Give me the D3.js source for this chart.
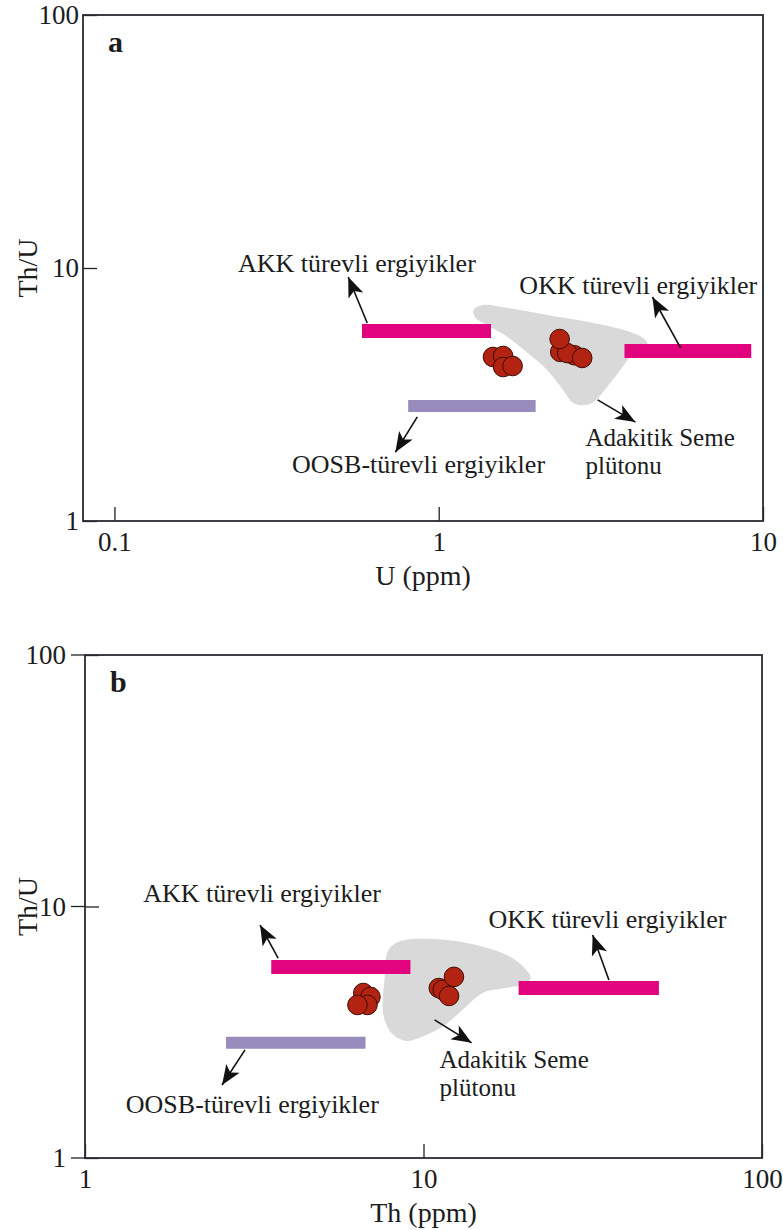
<!DOCTYPE html>
<html>
<head>
<meta charset="utf-8">
<script src="https://cdn.jsdelivr.net/npm/d3@7"></script>
<style>
  body { margin: 0; background: #fff; }
  svg text { font-family: "Liberation Serif", "Times New Roman", serif; fill: #1c1c1c; }
</style>
</head>
<body>
<svg id="chart" width="783" height="1230"></svg>
<script>
// ---- panel a : Th/U vs U (ppm) ----
const aSampleU   = [1.47, 1.58, 1.58, 1.69, 2.37, 2.62, 2.49, 2.36, 2.77];
const aSampleThU = [4.45, 4.49, 4.06, 4.10, 4.66, 4.52, 4.61, 5.24, 4.41];
const aBarName = ['AKK', 'OKK', 'OOSB'];
const aBarFrom = [0.58, 3.74, 0.805];
const aBarTo   = [1.45, 9.2, 1.99];
const aBarThU  = [5.64, 4.7, 2.85];
const aFieldU   = [1.28, 1.37, 1.63, 2.16, 3.00, 3.90, 4.34, 4.40, 3.99, 3.63, 3.31, 3.00, 2.79, 2.60, 2.42, 2.16, 1.88, 1.63, 1.41, 1.30];
const aFieldThU = [6.82, 7.14, 6.95, 6.52, 6.06, 5.58, 5.19, 4.96, 4.61, 3.95, 3.39, 2.95, 2.87, 2.93, 3.29, 3.95, 4.61, 5.34, 5.95, 6.34];
const aXTicks = [0.1, 1, 10];
const aXMinor = [0.09, 0.2, 0.3, 0.4, 0.5, 0.6, 0.7, 0.8, 0.9, 2, 3, 4, 5, 6, 7, 8, 9];

// ---- panel b : Th/U vs Th (ppm) ----
const bSampleTh  = [6.64, 6.97, 6.83, 6.38, 11.1, 11.4, 11.9, 12.3];
const bSampleThU = [4.53, 4.37, 4.06, 4.06, 4.74, 4.66, 4.41, 5.25];
const bBarName = ['AKK', 'OKK', 'OOSB'];
const bBarFrom = [3.55, 19.1, 2.61];
const bBarTo   = [9.15, 49.6, 6.74];
const bBarThU  = [5.75, 4.74, 2.87];
const bFieldTh  = [7.88, 8.55, 10.63, 13.87, 17.36, 19.63, 20.73, 20.04, 17.36, 14.95, 13.22, 11.46, 9.86, 8.85, 8.10, 7.61, 7.67];
const bFieldThU = [6.71, 7.29, 7.43, 7.10, 6.47, 5.80, 5.20, 4.92, 4.74, 4.53, 3.95, 3.35, 3.03, 2.92, 3.11, 3.70, 5.10];
const bXTicks = [1, 10, 100];
const bXMinor = [2, 3, 4, 5, 6, 7, 8, 9, 20, 30, 40, 50, 60, 70, 80, 90];

// shared y axis ticks
const yTicks = [1, 10, 100];
const yMinor = [2, 3, 4, 5, 6, 7, 8, 9, 20, 30, 40, 50, 60, 70, 80, 90];

// annotation texts and arrows (data units)
const aLabels = [
  { text: 'AKK türevli ergiyikler', x: 0.2405, y: 9.64 },
  { text: 'OKK türevli ergiyikler', x: 1.773, y: 7.89 },
  { text: 'OOSB-türevli ergiyikler', x: 0.353, y: 1.548 },
  { text: 'Adakitik Seme', text2: 'plütonu', x: 2.835, y: 1.98 }
];
const aArrows = [
  { x1: 0.602, y1: 6.06, x2: 0.526, y2: 9.21 },
  { x1: 5.57, y1: 4.83, x2: 4.56, y2: 7.68 },
  { x1: 0.859, y1: 2.58, x2: 0.735, y2: 1.87 },
  { x1: 3.09, y1: 3.01, x2: 4.04, y2: 2.46 }
];
const bLabels = [
  { text: 'AKK türevli ergiyikler', x: 1.485, y: 10.42 },
  { text: 'OKK türevli ergiyikler', x: 15.57, y: 8.21 },
  { text: 'OOSB-türevli ergiyikler', x: 1.32, y: 1.51 },
  { text: 'Adakitik Seme', text2: 'plütonu', x: 11.15, y: 2.28 }
];
const bArrows = [
  { x1: 3.72, y1: 6.24, x2: 3.29, y2: 8.44 },
  { x1: 35.3, y1: 5.10, x2: 31.6, y2: 7.70 },
  { x1: 2.97, y1: 2.69, x2: 2.54, y2: 1.95 },
  { x1: 10.78, y1: 3.54, x2: 13.87, y2: 2.87 }
];

const barColor = { AKK: '#e2047f', OKK: '#e2047f', OOSB: '#978cbd' };
const barWidth = { AKK: 14, OKK: 14, OOSB: 12 };

const svg = d3.select('#chart');

svg.append('defs').append('marker')
    .attr('id', 'head')
    .attr('viewBox', '-22 -9 24 18')
    .attr('refX', 0).attr('refY', 0)
    .attr('markerWidth', 24).attr('markerHeight', 18)
    .attr('markerUnits', 'userSpaceOnUse')
    .attr('orient', 'auto')
    .append('path')
    .attr('d', 'M0,0 L-20,-8 L-15,0 L-20,8 Z')
    .attr('fill', '#111');

function drawPanel(p) {
    const g = svg.append('g');
    const x = d3.scaleLog().domain(p.xDomain).range([p.left, p.right]);
    const y = d3.scaleLog().domain([1, 100]).range([p.bottom, p.top]);

    // granite field
    const field = p.fieldX.map((v, i) => [v, p.fieldY[i]]);
    g.append('path')
        .attr('d', d3.line().x(d => x(d[0])).y(d => y(d[1])).curve(d3.curveCatmullRomClosed.alpha(0.5))(field))
        .attr('fill', '#d9d9d9');

    // reference bars
    p.barName.forEach((n, i) => {
        g.append('line')
            .attr('x1', x(p.barFrom[i])).attr('x2', x(p.barTo[i]))
            .attr('y1', y(p.barY[i])).attr('y2', y(p.barY[i]))
            .attr('stroke', barColor[n])
            .attr('stroke-width', barWidth[n]);
    });

    // samples
    const pts = p.sampleX.map((v, i) => ({ x: v, y: p.sampleY[i] }));
    g.selectAll('circle.s')
        .data(pts)
        .join('circle')
        .attr('class', 's')
        .attr('cx', d => x(d.x))
        .attr('cy', d => y(d.y))
        .attr('r', 9.8)
        .attr('fill', '#b32311')
        .attr('stroke', '#3d0c05')
        .attr('stroke-width', 1);

    // arrows
    g.selectAll('line.arr')
        .data(p.arrows)
        .join('line')
        .attr('class', 'arr')
        .attr('x1', d => x(d.x1)).attr('y1', d => y(d.y1))
        .attr('x2', d => x(d.x2)).attr('y2', d => y(d.y2))
        .attr('stroke', '#111')
        .attr('stroke-width', 1.6)
        .attr('marker-end', 'url(#head)');

    // labels
    p.labels.forEach(l => {
        const t = g.append('text')
            .attr('x', x(l.x)).attr('y', y(l.y))
            .attr('font-size', l.text2 ? 25 : 26);
        t.append('tspan').text(l.text);
        if (l.text2) t.append('tspan').attr('x', x(l.x)).attr('dy', 28).text(l.text2);
    });

    // axes: minor and major inward ticks
    const xb = g.append('g').attr('transform', `translate(0,${p.bottom})`);
    xb.call(d3.axisBottom(x).tickValues(p.xMinor).tickSize(-7).tickFormat(''));
    xb.call(d3.axisBottom(x).tickValues(p.xTicks).tickSize(-14).tickPadding(4).tickFormat(d3.format('')));
    const yl = g.append('g').attr('transform', `translate(${p.left},0)`);
    yl.call(d3.axisLeft(y).tickValues(yMinor).tickSize(-7).tickFormat(''));
    yl.call(d3.axisLeft(y).tickValues(yTicks).tickSize(-14).tickPadding(p.yPad).tickFormat(d3.format('')));
    g.selectAll('.domain').remove();
    g.selectAll('.tick line').attr('stroke', '#222').attr('stroke-width', 1.3);
    g.selectAll('.tick text').attr('font-size', 27).attr('fill', '#1c1c1c')
        .attr('font-family', '"Liberation Serif", serif');
    xb.selectAll('.tick text').attr('dy', '0.95em');

    if (p.outTicks) {
        g.selectAll('line.out')
            .data(yTicks)
            .join('line')
            .attr('class', 'out')
            .attr('x1', p.left - 14).attr('x2', p.left)
            .attr('y1', d => y(d)).attr('y2', d => y(d))
            .attr('stroke', '#222').attr('stroke-width', 1.3);
    }

    // frame
    g.append('rect')
        .attr('x', p.left).attr('y', p.top)
        .attr('width', p.right - p.left).attr('height', p.bottom - p.top)
        .attr('fill', 'none').attr('stroke', '#2a2a33').attr('stroke-width', 1.8);

    // panel letter and titles
    g.append('text').attr('x', p.left + 25).attr('y', p.top + 37)
        .attr('font-size', 30).attr('font-weight', 'bold').text(p.letter);
    g.append('text').attr('x', (p.left + p.right) / 2).attr('y', p.bottom + 64)
        .attr('text-anchor', 'middle').attr('font-size', 28).text(p.xTitle);
    g.append('text')
        .attr('transform', `translate(37,${y(10)}) rotate(-90)`)
        .attr('text-anchor', 'middle').attr('font-size', 28).text('Th/U');
}

drawPanel({
    letter: 'a', xTitle: 'U (ppm)', xDomain: [0.08, 10],
    left: 83, right: 763, top: 15, bottom: 521, yPad: 4, outTicks: false,
    sampleX: aSampleU, sampleY: aSampleThU,
    barName: aBarName, barFrom: aBarFrom, barTo: aBarTo, barY: aBarThU,
    fieldX: aFieldU, fieldY: aFieldThU,
    xTicks: aXTicks, xMinor: aXMinor, labels: aLabels, arrows: aArrows
});

drawPanel({
    letter: 'b', xTitle: 'Th (ppm)', xDomain: [1, 100],
    left: 85, right: 762, top: 655, bottom: 1158, yPad: 19, outTicks: true,
    sampleX: bSampleTh, sampleY: bSampleThU,
    barName: bBarName, barFrom: bBarFrom, barTo: bBarTo, barY: bBarThU,
    fieldX: bFieldTh, fieldY: bFieldThU,
    xTicks: bXTicks, xMinor: bXMinor, labels: bLabels, arrows: bArrows
});
</script>
</body>
</html>
